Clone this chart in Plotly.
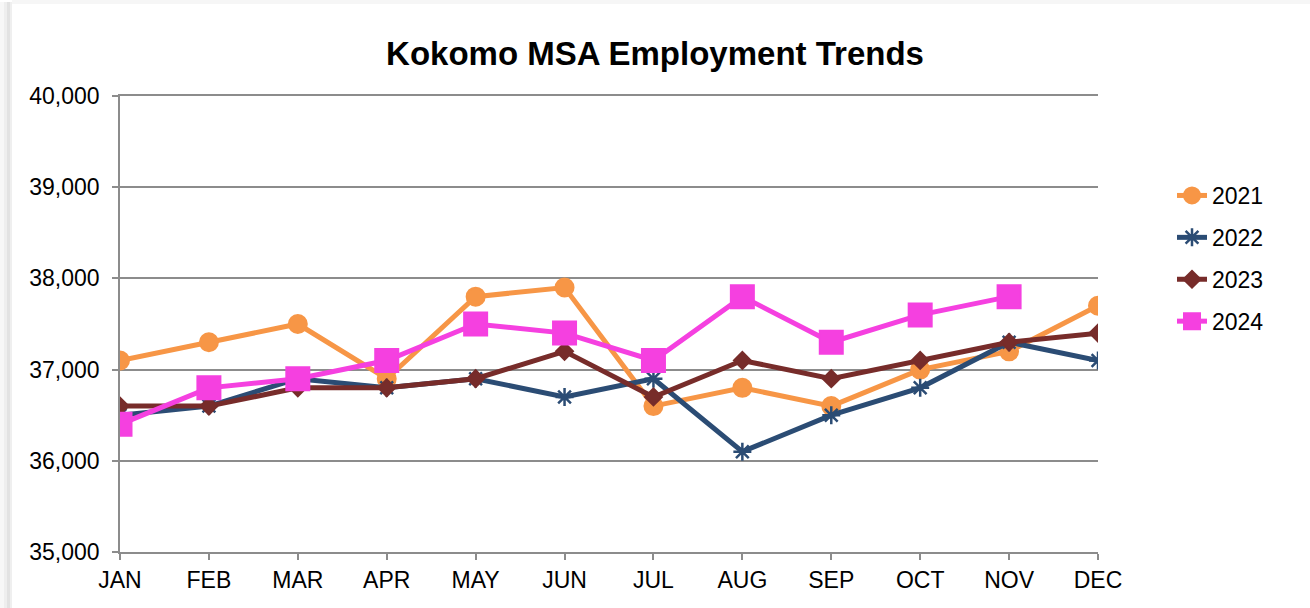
import plotly.graph_objects as go

months = ["JAN", "FEB", "MAR", "APR", "MAY", "JUN", "JUL", "AUG", "SEP", "OCT", "NOV", "DEC"]
y2021 = [37100, 37300, 37500, 36900, 37800, 37900, 36600, 36800, 36600, 37000, 37200, 37700]
y2022 = [36500, 36600, 36900, 36800, 36900, 36700, 36900, 36100, 36500, 36800, 37300, 37100]
y2023 = [36600, 36600, 36800, 36800, 36900, 37200, 36700, 37100, 36900, 37100, 37300, 37400]
y2024 = [36400, 36800, 36900, 37100, 37500, 37400, 37100, 37800, 37300, 37600, 37800, None]
y_ticks = [35000, 36000, 37000, 38000, 39000, 40000]

fig = go.Figure()
series = [
    ("2021", y2021, "#F79646", "circle", 18, 2),
    ("2022", y2022, "#2B4C74", "asterisk-open", 15, 2.5),
    ("2023", y2023, "#772C2A", "diamond", 13, 2),
    ("2024", y2024, "#F540E0", "square", 23, 2),
]
for name, ys, color, sym, size, lw in series:
    fig.add_trace(go.Scatter(
        x=list(range(len(months))), y=ys, name=name, mode="lines+markers",
        legendgroup=name,
        line=dict(color=color, width=5),
        marker=dict(symbol=sym, size=size, color=color, line=dict(color=color, width=lw)),
        connectgaps=False,
    ))

W, H = 1310, 608
L, R, T, B = 120, 212, 96, 56
pw = W - L - R
ph = H - T - B

def px(x):
    return (x - L) / pw

def py(y):
    return (H - B - y) / ph

grid = "#8C8C8C"
fig.update_layout(
    width=W, height=H,
    margin=dict(l=L, r=R, t=T, b=B),
    paper_bgcolor="white", plot_bgcolor="white",
    font=dict(family="Liberation Sans, Arial, sans-serif", size=23, color="black"),
    title=dict(text="<b>Kokomo MSA Employment Trends</b>", x=655 / W, xanchor="center",
               y=1 - 53 / H, yanchor="middle", font=dict(size=33, color="black")),
    showlegend=True,
    legend=dict(x=px(1172), xanchor="left", y=py(174), yanchor="top",
                font=dict(size=23), tracegroupgap=9,
                bgcolor="rgba(0,0,0,0)"),
    xaxis=dict(
        tickmode="array", tickvals=list(range(len(months))), ticktext=months,
        range=[0, len(months) - 1], showgrid=False, zeroline=False,
        showline=True, linecolor=grid, linewidth=1.5, mirror=True,
        ticks="outside", ticklen=6, tickcolor=grid, tickwidth=1.5,
        ticklabelstandoff=1, tickfont=dict(size=23),
    ),
    yaxis=dict(
        range=[35000, 40000], tickvals=y_ticks, tickformat=",", showgrid=True,
        gridcolor=grid, gridwidth=1.5, zeroline=False,
        showline=True, linecolor=grid, linewidth=1.5,
        ticks="outside", ticklen=6, tickcolor=grid, tickwidth=1.5,
        ticklabelstandoff=8, tickfont=dict(size=23),
    ),
)
# shadow edges of the chart frame
shades = [(0, 4, "#F7F7F7"), (4, 7, "#EEEEEE"), (7, 10, "#E2E2E2"), (10, 12, "#EFEFEF")]
for x0, x1, c in shades:
    fig.add_shape(type="rect", xref="paper", yref="paper", x0=px(x0), x1=px(x1), y0=py(608), y1=py(2),
                  fillcolor=c, line=dict(width=0), layer="below")
fig.add_shape(type="rect", xref="paper", yref="paper", x0=px(12), x1=px(1310), y0=py(0), y1=py(4),
              fillcolor="#F6F6F6", line=dict(width=0), layer="below")

fig.write_html("out.html", config={"displayModeBar": False},
               post_script="document.body.style.margin='0px';")
